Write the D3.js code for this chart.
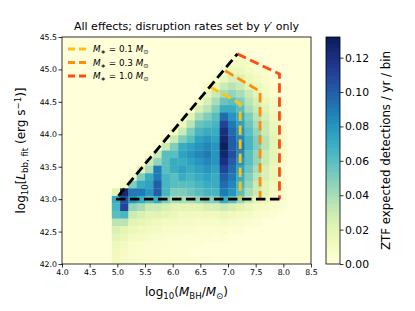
<!DOCTYPE html>
<html>
<head>
<meta charset="utf-8">
<script src="https://cdn.jsdelivr.net/npm/d3@7"></script>
<style>
  body { margin: 0; background: #fff; }
  svg { font-family: "DejaVu Sans", sans-serif; }
</style>
</head>
<body>
<svg width="415" height="311"></svg>
<script>
// left edges of the log10(M_BH) bins, width 0.15
var massBins = [4.90, 5.05, 5.20, 5.35, 5.50, 5.65, 5.80, 5.95, 6.10, 6.25, 6.40,
                6.55, 6.70, 6.85, 7.00, 7.15, 7.30, 7.45, 7.60, 7.75, 7.90];
var massBinWidth = 0.15;
// lower edges of the log10(L) bins, top row first, width 3.5/30
var lumBins = [45.150, 45.033, 44.917, 44.800, 44.683, 44.567, 44.450, 44.333, 44.217, 44.100,
               43.983, 43.867, 43.750, 43.633, 43.517, 43.400, 43.283, 43.167, 43.050, 42.933,
               42.817, 42.700, 42.583, 42.467, 42.350, 42.233, 42.117, 42.000];
var lumBinWidth = 0.11667;

// expected ZTF detections / yr / bin, one row per lumBins entry, one column per massBins entry
var rates = [
  [0,0,0,0,0,0,0,0,0,0,0,0,0,0,.004,.005,.003,0,0,0,0],
  [0,0,0,0,0,0,0,0,0,0,0,0,0,0,.008,.010,.006,.004,0,0,0],
  [0,0,0,0,0,0,0,0,0,0,0,0,0,.006,.015,.015,.010,.006,.004,0,0],
  [0,0,0,0,0,0,0,0,0,0,0,0,.006,.015,.025,.025,.015,.010,.006,.003,0],
  [0,0,0,0,0,0,0,0,0,0,0,.005,.015,.030,.035,.030,.020,.015,.008,.004,0],
  [0,0,0,0,0,0,0,0,0,0,0,.015,.030,.040,.045,.040,.030,.020,.010,.005,0],
  [0,0,0,0,0,0,0,0,0,0,.010,.025,.040,.055,.060,.050,.035,.025,.015,.008,.003],
  [0,0,0,0,0,0,0,0,0,.005,.025,.035,.050,.070,.070,.060,.040,.030,.020,.010,.004],
  [0,0,0,0,0,0,0,0,.004,.020,.040,.050,.060,.095,.080,.070,.050,.035,.025,.012,.005],
  [0,0,0,0,0,0,0,0,.015,.035,.055,.060,.065,.110,.090,.075,.055,.040,.030,.015,.006],
  [0,0,0,0,0,0,0,.010,.030,.050,.065,.070,.070,.120,.095,.080,.060,.045,.030,.018,.007],
  [0,0,0,0,0,0,.008,.030,.050,.060,.075,.080,.075,.125,.100,.085,.065,.050,.035,.020,.008],
  [0,0,0,0,0,.005,.030,.050,.070,.075,.080,.085,.080,.130,.100,.090,.065,.050,.035,.020,.008],
  [0,0,0,0,.004,.030,.060,.060,.075,.080,.085,.090,.080,.125,.105,.085,.060,.045,.030,.020,.008],
  [0,0,0,0,.030,.045,.060,.070,.070,.075,.080,.085,.080,.120,.100,.080,.060,.045,.030,.018,.007],
  [0,0,0,.020,.040,.090,.060,.070,.075,.070,.075,.080,.075,.110,.095,.075,.055,.040,.025,.015,.006],
  [0,0,.010,.050,.070,.090,.065,.060,.070,.065,.070,.075,.070,.100,.090,.070,.050,.035,.025,.015,.006],
  [0,.010,.050,.070,.075,.100,.065,.060,.060,.060,.065,.070,.070,.095,.085,.065,.045,.030,.020,.012,.005],
  [.020,.125,.090,.090,.080,.100,.065,.050,.050,.055,.060,.065,.065,.090,.080,.060,.040,.030,.020,.010,.005],
  [.070,.105,.080,.070,.060,.070,.050,.040,.040,.040,.045,.050,.050,.070,.060,.045,.030,.020,.015,.008,.004],
  [.065,.110,.045,.040,.030,.030,.025,.020,.020,.020,.020,.025,.025,.030,.025,.020,.015,.010,.008,.005,.003],
  [.060,.065,.030,.025,.020,.020,.018,.015,.012,.012,.012,.012,.012,.015,.012,.010,.008,.005,.004,.003,0],
  [.035,.035,.020,.018,.015,.012,.010,.010,.008,.008,.007,.007,.007,.008,.006,.005,.004,.003,0,0,0],
  [.025,.020,.015,.012,.010,.008,.007,.006,.005,.005,.004,.004,.004,.004,.003,.003,0,0,0,0,0],
  [.020,.015,.010,.008,.006,.005,.004,.004,.003,.003,.003,.003,.002,.003,0,0,0,0,0,0,0],
  [.015,.010,.007,.005,.004,.003,.003,.002,.002,.002,.002,0,0,0,0,0,0,0,0,0,0],
  [.012,.008,.005,.004,.003,.003,.002,.002,.002,0,0,0,0,0,0,0,0,0,0,0,0],
  [.010,.008,.006,.005,.005,.004,.004,.003,.003,.003,.003,.002,0,0,0,0,0,0,0,0,0]
];

// dashed selection boundaries, [log10 M_BH, log10 L]
var boundaryAll = [[7.93, 43.0], [4.97, 43.0], [7.17, 45.24]];
var boundaryStar = [
  {mstar: "0.1", color: "#ffc20e", pts: [[6.68, 44.73], [7.22, 44.47], [7.22, 43.0]]},
  {mstar: "0.3", color: "#ff8c0a", pts: [[6.95, 44.98], [7.58, 44.66], [7.58, 43.0]]},
  {mstar: "1.0", color: "#ff4a14", pts: [[7.17, 45.24], [7.93, 44.93], [7.93, 43.0]]}
];

var xTicks = [4.0, 4.5, 5.0, 5.5, 6.0, 6.5, 7.0, 7.5, 8.0, 8.5];
var yTicks = [42.0, 42.5, 43.0, 43.5, 44.0, 44.5, 45.0, 45.5];
var cTicks = [0.00, 0.02, 0.04, 0.06, 0.08, 0.10, 0.12];
var cMax = 0.132;

var svg = d3.select("svg");
var L = 62, R = 311, T = 37, B = 264;
var cbL = 326, cbR = 340;

var x = d3.scaleLinear().domain([4.0, 8.5]).range([L, R]);
var y = d3.scaleLinear().domain([42.0, 45.5]).range([B, T]);
var color = d3.scaleSequential(d3.interpolateYlGnBu).domain([0, cMax]);

// background = zero bin colour
svg.append("rect").attr("x", L).attr("y", T).attr("width", R - L).attr("height", B - T)
    .attr("fill", color(0));

var cells = [];
rates.forEach(function(row, i) {
    row.forEach(function(v, j) {
        if (v > 0) cells.push({m: massBins[j], l: lumBins[i], v: v});
    });
});
svg.append("g").selectAll("rect").data(cells).enter().append("rect")
    .attr("x", function(d) { return x(d.m); })
    .attr("y", function(d) { return y(d.l + lumBinWidth); })
    .attr("width", function(d) { return x(d.m + massBinWidth) - x(d.m) + 0.3; })
    .attr("height", function(d) { return y(d.l) - y(d.l + lumBinWidth) + 0.3; })
    .attr("fill", function(d) { return color(d.v); });

var line = d3.line().x(function(d) { return x(d[0]); }).y(function(d) { return y(d[1]); });
boundaryStar.forEach(function(b) {
    svg.append("path").attr("d", line(b.pts)).attr("fill", "none")
        .attr("stroke", b.color).attr("stroke-width", 2.8).attr("stroke-dasharray", "9.5,4.5");
});
svg.append("path").attr("d", line(boundaryAll)).attr("fill", "none")
    .attr("stroke", "#000").attr("stroke-width", 2.8).attr("stroke-dasharray", "9.5,4.5");

// axes
var xAxis = svg.append("g").attr("transform", "translate(0," + B + ")")
    .call(d3.axisBottom(x).tickValues(xTicks).tickFormat(d3.format(".1f")).tickSize(3.5).tickPadding(1.5));
var yAxis = svg.append("g").attr("transform", "translate(" + L + ",0)")
    .call(d3.axisLeft(y).tickValues(yTicks).tickFormat(d3.format(".1f")).tickSize(3.5).tickPadding(1.5));
[xAxis, yAxis].forEach(function(a) {
    a.select(".domain").remove();
    a.selectAll("text").attr("font-size", 7.8).attr("font-family", "DejaVu Sans").attr("fill", "#000");
    a.selectAll("line").attr("stroke", "#000").attr("stroke-width", 0.8);
});
svg.append("rect").attr("x", L).attr("y", T).attr("width", R - L).attr("height", B - T)
    .attr("fill", "none").attr("stroke", "#000").attr("stroke-width", 0.8);

// title
var title = svg.append("text").attr("x", (L + R) / 2).attr("y", 30)
    .attr("text-anchor", "middle").attr("font-size", 11);
title.append("tspan").text("All effects; disruption rates set by ");
title.append("tspan").attr("font-style", "italic").text("γ′");
title.append("tspan").text(" only");

// x label
var xl = svg.append("text").attr("x", (L + R) / 2).attr("y", 296)
    .attr("text-anchor", "middle").attr("font-size", 12);
xl.append("tspan").text("log");
xl.append("tspan").attr("font-size", 8.6).attr("dy", 3).text("10");
xl.append("tspan").attr("dy", -3).text("(");
xl.append("tspan").attr("font-style", "italic").text("M");
xl.append("tspan").attr("font-size", 8.6).attr("dy", 3).text("BH");
xl.append("tspan").attr("dy", -3).text("/");
xl.append("tspan").attr("font-style", "italic").text("M");
xl.append("tspan").attr("font-size", 8.6).attr("dy", 3).text("⊙");
xl.append("tspan").attr("dy", -3).text(")");

// y label
var yl = svg.append("text").attr("transform", "translate(25," + ((T + B) / 2) + ") rotate(-90)")
    .attr("text-anchor", "middle").attr("font-size", 12);
yl.append("tspan").text("log");
yl.append("tspan").attr("font-size", 8.6).attr("dy", 3).text("10");
yl.append("tspan").attr("dy", -3).text("[");
yl.append("tspan").attr("font-style", "italic").text("L");
yl.append("tspan").attr("font-size", 8.6).attr("dy", 3).text("bb, fit");
yl.append("tspan").attr("dy", -3).text(" (erg s");
yl.append("tspan").attr("font-size", 8.6).attr("dy", -4.5).text("−1");
yl.append("tspan").attr("dy", 4.5).text(")]");

// legend
boundaryStar.forEach(function(b, i) {
    var ly = 49 + i * 13.5;
    svg.append("line").attr("x1", 68).attr("x2", 88).attr("y1", ly).attr("y2", ly)
        .attr("stroke", b.color).attr("stroke-width", 2.8).attr("stroke-dasharray", "7,4");
    var t = svg.append("text").attr("x", 93).attr("y", ly + 3.2).attr("font-size", 8.8);
    t.append("tspan").attr("font-style", "italic").text("M");
    t.append("tspan").attr("font-size", 6.4).attr("dy", 2).text("∗");
    t.append("tspan").attr("dy", -2).text(" = " + b.mstar + " ");
    t.append("tspan").attr("font-style", "italic").text("M");
    t.append("tspan").attr("font-size", 6.4).attr("dy", 2).text("⊙");
});

// colorbar
var grad = svg.append("defs").append("linearGradient").attr("id", "cbar")
    .attr("x1", 0).attr("y1", 1).attr("x2", 0).attr("y2", 0);
d3.range(0, 1.0001, 0.05).forEach(function(f) {
    grad.append("stop").attr("offset", f).attr("stop-color", d3.interpolateYlGnBu(f));
});
svg.append("rect").attr("x", cbL).attr("y", T).attr("width", cbR - cbL).attr("height", B - T)
    .attr("fill", "url(#cbar)").attr("stroke", "#000").attr("stroke-width", 0.8);
var c = d3.scaleLinear().domain([0, cMax]).range([B, T]);
var cAxis = svg.append("g").attr("transform", "translate(" + cbR + ",0)")
    .call(d3.axisRight(c).tickValues(cTicks).tickFormat(d3.format(".2f")).tickSize(3.5).tickPadding(1.5));
cAxis.select(".domain").remove();
cAxis.selectAll("text").attr("font-size", 10.8).attr("font-family", "DejaVu Sans").attr("fill", "#000");
cAxis.selectAll("line").attr("stroke", "#000").attr("stroke-width", 0.8);

svg.append("text").attr("transform", "translate(390," + ((T + B) / 2) + ") rotate(-90)")
    .attr("text-anchor", "middle").attr("font-size", 11.8)
    .text("ZTF expected detections / yr / bin");
</script>
</body>
</html>
